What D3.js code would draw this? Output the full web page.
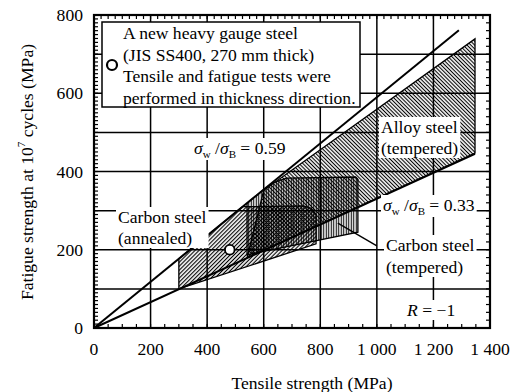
<!DOCTYPE html>
<html><head><meta charset="utf-8">
<script src="https://cdn.jsdelivr.net/npm/d3@7"></script>
<style>
html,body{margin:0;padding:0;background:#fff;}
svg text{font-family:"Liberation Serif","Times New Roman",Tinos;fill:#000;}
</style></head>
<body><svg id="c" width="517" height="392"></svg>
<script>
// ---- data ----
const xTicks = [0,200,400,600,800,1000,1200,1400];
const xTickLabels = ["0","200","400","600","800","1 000","1 200","1 400"];
const yTicks = [0,200,400,600,800];
const yTickLabels = ["0","200","400","600","800"];
const xGrid = [200,400,600,800,1000,1200];
const yGrid = [100,200,300,400,500,600,700];
const line059 = [[0,0],[1290,761]];
const line033 = [[0,0],[1347,445]];
const annealed = [[300,100],[300,177],[525,310],[740,312],[768,306],[785,290],[785,215]];
const tempered = [[541,187],[541,319],[590,348],[630,370],[680,383],[925,386],[933,380],[933,245]];
const alloy = [[541,179],[600,352],[1347,739],[1347,447]];
const testPoint = [[480,200]];
const leaderTempered = [[862,268],[1000,210]];
const legendLines = ["A new heavy gauge steel","(JIS SS400, 270 mm thick)","Tensile and fatigue tests were","performed in thickness direction."];

const FONT = '"Liberation Serif", "Times New Roman", Tinos';
const svg = d3.select("#c");
const x = d3.scaleLinear().domain([0,1400]).range([94,490]);
const y = d3.scaleLinear().domain([0,800]).range([328,15]);
const FS = 17.6;

// patterns
const defs = svg.append("defs");
function hatch(id, rot, sp, sw){
  const p = defs.append("pattern").attr("id",id).attr("patternUnits","userSpaceOnUse")
    .attr("width",sp).attr("height",10).attr("patternTransform",`rotate(${rot})`);
  p.append("line").attr("x1",sp/2).attr("x2",sp/2).attr("y1",-1).attr("y2",11)
    .attr("stroke","#000").attr("stroke-width",sw);
}
hatch("hA", 45, 2.8, 1.15);   // ///
hatch("hL", -45, 2.7, 1.1);   // \\\
hatch("hT", 0, 2.5, 1.1);     // |||

// grid
const g = svg.append("g");
g.selectAll(".gx").data(xGrid).join("line")
  .attr("x1",d=>x(d)).attr("x2",d=>x(d)).attr("y1",y(0)).attr("y2",y(800))
  .attr("stroke","#000").attr("stroke-width",1.5);
g.selectAll(".gy").data(yGrid).join("line")
  .attr("y1",d=>y(d)).attr("y2",d=>y(d)).attr("x1",x(0)).attr("x2",x(1400))
  .attr("stroke","#000").attr("stroke-width",1.5);

// minor ticks (inward)
function ticks(vals, side){
  const len = 4;
  g.selectAll(null).data(vals).join("line")
    .attr("x1", d => side==="l"?x(0):side==="r"?x(1400):x(d))
    .attr("x2", d => side==="l"?x(0)+len:side==="r"?x(1400)-len:x(d))
    .attr("y1", d => side==="b"?y(0):side==="t"?y(800):y(d))
    .attr("y2", d => side==="b"?y(0)-len:side==="t"?y(800)+len:y(d))
    .attr("stroke","#000").attr("stroke-width",1.2);
}
ticks(d3.range(0,801,10),"l");
ticks(d3.range(0,801,20),"r");
ticks(d3.range(0,1401,25),"t");
ticks(d3.range(0,1401,50),"b");

const line = d3.line().x(d=>x(d[0])).y(d=>y(d[1]));
const poly = pts => line(pts) + "Z";

// regions
svg.append("path").attr("d",poly(annealed)).attr("fill","url(#hA)").attr("stroke","#000").attr("stroke-width",1.3);
svg.append("path").attr("d",poly(alloy)).attr("fill","url(#hL)").attr("stroke","#000").attr("stroke-width",1.3);
svg.append("path").attr("d",poly(tempered)).attr("fill","url(#hT)").attr("stroke","#000").attr("stroke-width",1.3);

// ratio lines
[line059,line033].forEach(l=>{
  svg.append("path").attr("d",line(l)).attr("fill","none").attr("stroke","#000").attr("stroke-width",2);
});

// leader
svg.append("path").attr("d",line(leaderTempered)).attr("stroke","#000").attr("stroke-width",1.4).attr("fill","none");

// test point
svg.selectAll(".pt").data(testPoint).join("circle")
  .attr("cx",d=>x(d[0])).attr("cy",d=>y(d[1])).attr("r",4.8)
  .attr("fill","#fff").attr("stroke","#000").attr("stroke-width",1.8);

// frame
svg.append("rect").attr("x",x(0)).attr("y",y(800)).attr("width",x(1400)-x(0)).attr("height",y(0)-y(800))
  .attr("fill","none").attr("stroke","#000").attr("stroke-width",2.2);

function txt(sel){ return sel.style("font-family",FONT).attr("font-size",FS); }

// labels with white background
function label(lines, px, py, lh){
  const grp = svg.append("g");
  const bg = grp.append("rect").attr("fill","#fff");
  const t = txt(grp.append("text"));
  lines.forEach((ln,i)=>{
    t.append("tspan").attr("x",px).attr("y",py+i*lh).attr("dominant-baseline","central").text(ln);
  });
  const b = t.node().getBBox();
  bg.attr("x",b.x-2).attr("y",b.y).attr("width",b.width+4).attr("height",b.height);
}
function ratioLabel(val, px, py){
  const grp = svg.append("g");
  const bg = grp.append("rect").attr("fill","#fff");
  const t = txt(grp.append("text")).attr("x",px).attr("y",py);
  t.append("tspan").attr("font-style","italic").text("σ");
  t.append("tspan").attr("font-size",11).attr("dy",4).text("w");
  t.append("tspan").attr("dy",-4).text(" /");
  t.append("tspan").attr("font-style","italic").text("σ");
  t.append("tspan").attr("font-size",11).attr("dy",4).text("B");
  t.append("tspan").attr("dy",-4).text(" = " + val);
  const b = t.node().getBBox();
  bg.attr("x",b.x-2).attr("y",b.y).attr("width",b.width+4).attr("height",b.height);
}
ratioLabel("0.59", 194, 154);
ratioLabel("0.33", 383, 211);
label(["Alloy steel","(tempered)"], 381, 127, 21);
label(["Carbon steel","(annealed)"], 118, 217, 21);
label(["Carbon steel","(tempered)"], 386, 245, 22);
(function(){
  const grp = svg.append("g");
  const bg = grp.append("rect").attr("fill","#fff");
  const t = txt(grp.append("text")).attr("x",407).attr("y",316);
  t.append("tspan").attr("font-style","italic").text("R");
  t.append("tspan").text(" = −1");
  const b = t.node().getBBox();
  bg.attr("x",b.x-2).attr("y",b.y).attr("width",b.width+4).attr("height",b.height);
})();

// legend
const lg = svg.append("g");
lg.append("rect").attr("x",102).attr("y",22).attr("width",258).attr("height",85)
  .attr("fill","#fff").attr("stroke","#000").attr("stroke-width",1.5);
lg.append("circle").attr("cx",112).attr("cy",65).attr("r",5).attr("fill","#fff").attr("stroke","#000").attr("stroke-width",2.2);
txt(lg.selectAll(".lt").data(legendLines).join("text"))
  .attr("x",123).attr("y",(d,i)=>33+i*21.5).attr("dominant-baseline","central").text(d=>d);

// axis tick labels
txt(svg.selectAll(".xl").data(xTicks).join("text"))
  .attr("x",d=>x(d)).attr("y",349).attr("text-anchor","middle").attr("dominant-baseline","central")
  .text((d,i)=>xTickLabels[i]);
txt(svg.selectAll(".yl").data(yTicks).join("text"))
  .attr("x",83).attr("y",d=>y(d)).attr("text-anchor","end").attr("dominant-baseline","central")
  .text((d,i)=>yTickLabels[i]);

// axis titles
txt(svg.append("text")).attr("x",312).attr("y",383).attr("text-anchor","middle").attr("dominant-baseline","central")
  .text("Tensile strength (MPa)");
const yt = txt(svg.append("text")).attr("transform","translate(27,172) rotate(-90)").attr("text-anchor","middle")
  .attr("dominant-baseline","central");
yt.append("tspan").text("Fatigue strength at 10");
yt.append("tspan").attr("font-size",11).attr("dy",-6).text("7");
yt.append("tspan").attr("dy",6).text(" cycles (MPa)");
</script></body></html>
